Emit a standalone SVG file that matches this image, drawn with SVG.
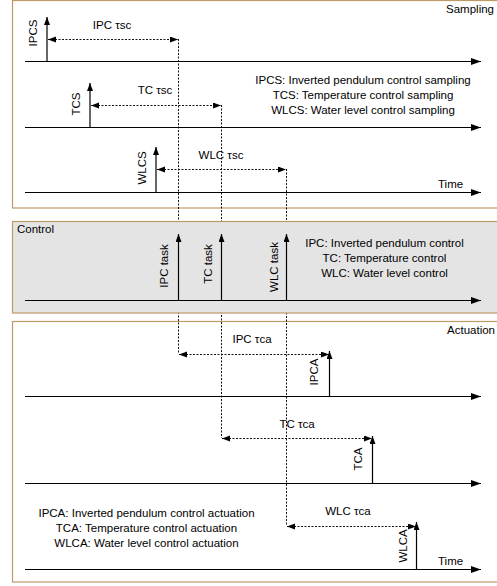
<svg xmlns="http://www.w3.org/2000/svg" width="497" height="586" viewBox="0 0 497 586">
<style>
text{font-family:"Liberation Sans",Arial,sans-serif;font-size:11.5px;fill:#000}
.panel{stroke:#BE9A66;stroke-width:1.2}
.axis{stroke:#000;stroke-width:1;fill:none}
.ev{stroke:#000;stroke-width:1.2;fill:none}
.dash{stroke:#111;stroke-width:1;stroke-dasharray:2,1.5;fill:none}
.mid{text-anchor:middle}
.end{text-anchor:end}
</style>
<defs>
<marker id="ax" markerUnits="userSpaceOnUse" markerWidth="11" markerHeight="8" refX="10" refY="3.5" orient="auto"><path d="M0,0 L10,3.5 L0,7 z" fill="#000"/></marker>
<marker id="up" markerUnits="userSpaceOnUse" markerWidth="9" markerHeight="8" refX="8" refY="3" orient="auto"><path d="M0,0 L8,3 L0,6 z" fill="#000"/></marker>
<marker id="da" markerUnits="userSpaceOnUse" markerWidth="9" markerHeight="8" refX="8" refY="3" orient="auto-start-reverse"><path d="M0,0 L8,3 L0,6 z" fill="#000"/></marker>
</defs>

<g id="panel-sampling">
<rect class="panel" x="12.5" y="0.5" width="495" height="207.5" fill="#fff"/>
<text class="end" x="494" y="13">Sampling</text>
<text class="mid" x="363" y="84">IPCS: Inverted pendulum control sampling</text>
<text class="mid" x="363" y="99">TCS: Temperature control sampling</text>
<text class="mid" x="363" y="114">WLCS: Water level control sampling</text>
<text x="438" y="188">Time</text>
</g>

<g id="panel-actuation">
<rect class="panel" x="12.5" y="321.5" width="495" height="260.5" fill="#fff"/>
<text class="end" x="495" y="334">Actuation</text>
<text class="mid" x="146.5" y="517">IPCA: Inverted pendulum control actuation</text>
<text class="mid" x="146.5" y="532">TCA: Temperature control actuation</text>
<text class="mid" x="146.5" y="547">WLCA: Water level control actuation</text>
<text x="438" y="565">Time</text>
</g>

<g id="connectors">
<line class="dash" x1="178.5" y1="39" x2="178.5" y2="354"/>
<line class="dash" x1="221.5" y1="105" x2="221.5" y2="438"/>
<line class="dash" x1="286.5" y1="169" x2="286.5" y2="526"/>
</g>

<g id="panel-control">
<rect class="panel" x="12.5" y="221.5" width="495" height="91.5" fill="#E4E4E4"/>
<text x="17" y="233">Control</text>
<text class="mid" x="384.5" y="247">IPC: Inverted pendulum control</text>
<text class="mid" x="384.5" y="262">TC: Temperature control</text>
<text class="mid" x="384.5" y="277">WLC: Water level control</text>
</g>

<g id="axes">
<line class="axis" x1="25" y1="61.5" x2="481" y2="61.5" marker-end="url(#ax)"/>
<line class="axis" x1="25" y1="127.5" x2="481" y2="127.5" marker-end="url(#ax)"/>
<line class="axis" x1="25" y1="192.5" x2="481" y2="192.5" marker-end="url(#ax)"/>
<line class="axis" x1="25" y1="300.5" x2="481" y2="300.5" marker-end="url(#ax)"/>
<line class="axis" x1="25" y1="396.5" x2="481" y2="396.5" marker-end="url(#ax)"/>
<line class="axis" x1="25" y1="483.5" x2="481" y2="483.5" marker-end="url(#ax)"/>
<line class="axis" x1="25" y1="569.5" x2="481" y2="569.5" marker-end="url(#ax)"/>
</g>

<g id="IPCS">
<line class="ev" x1="47" y1="61" x2="47" y2="17" marker-end="url(#up)"/>
<text class="mid" transform="translate(37,33) rotate(-90)">IPCS</text>
</g>
<g id="TCS">
<line class="ev" x1="90" y1="127" x2="90" y2="83" marker-end="url(#up)"/>
<text class="mid" transform="translate(80,104) rotate(-90)">TCS</text>
</g>
<g id="WLCS">
<line class="ev" x1="156" y1="192" x2="156" y2="147" marker-end="url(#up)"/>
<text class="mid" transform="translate(146,168) rotate(-90)">WLCS</text>
</g>
<g id="IPC-task">
<line class="ev" x1="178.5" y1="300" x2="178.5" y2="234" marker-end="url(#up)"/>
<text class="mid" transform="translate(168,266) rotate(-90)">IPC task</text>
</g>
<g id="TC-task">
<line class="ev" x1="221.5" y1="300" x2="221.5" y2="234" marker-end="url(#up)"/>
<text class="mid" transform="translate(212,264) rotate(-90)">TC task</text>
</g>
<g id="WLC-task">
<line class="ev" x1="286.5" y1="300" x2="286.5" y2="234" marker-end="url(#up)"/>
<text class="mid" transform="translate(278,267) rotate(-90)">WLC task</text>
</g>
<g id="IPCA">
<line class="ev" x1="329.5" y1="396" x2="329.5" y2="351" marker-end="url(#up)"/>
<text class="mid" transform="translate(318,372) rotate(-90)">IPCA</text>
</g>
<g id="TCA">
<line class="ev" x1="372.5" y1="483" x2="372.5" y2="436" marker-end="url(#up)"/>
<text class="mid" transform="translate(362,459) rotate(-90)">TCA</text>
</g>
<g id="WLCA">
<line class="ev" x1="416.5" y1="569" x2="416.5" y2="522" marker-end="url(#up)"/>
<text class="mid" transform="translate(407,546) rotate(-90)">WLCA</text>
</g>

<g id="delays">
<line class="dash" x1="48" y1="39.5" x2="178" y2="39.5" marker-start="url(#da)" marker-end="url(#da)"/>
<text class="mid" x="112" y="29">IPC τsc</text>
<line class="dash" x1="91" y1="105.5" x2="221" y2="105.5" marker-start="url(#da)" marker-end="url(#da)"/>
<text class="mid" x="155" y="94">TC τsc</text>
<line class="dash" x1="157" y1="169.5" x2="286" y2="169.5" marker-start="url(#da)" marker-end="url(#da)"/>
<text class="mid" x="221" y="159">WLC τsc</text>
<line class="dash" x1="179" y1="354.5" x2="329" y2="354.5" marker-start="url(#da)" marker-end="url(#da)"/>
<text class="mid" x="252" y="343">IPC τca</text>
<line class="dash" x1="222" y1="438.5" x2="372" y2="438.5" marker-start="url(#da)" marker-end="url(#da)"/>
<text class="mid" x="297" y="428">TC τca</text>
<line class="dash" x1="287" y1="526.5" x2="416" y2="526.5" marker-start="url(#da)" marker-end="url(#da)"/>
<text class="mid" x="348" y="515">WLC τca</text>
</g>
</svg>
